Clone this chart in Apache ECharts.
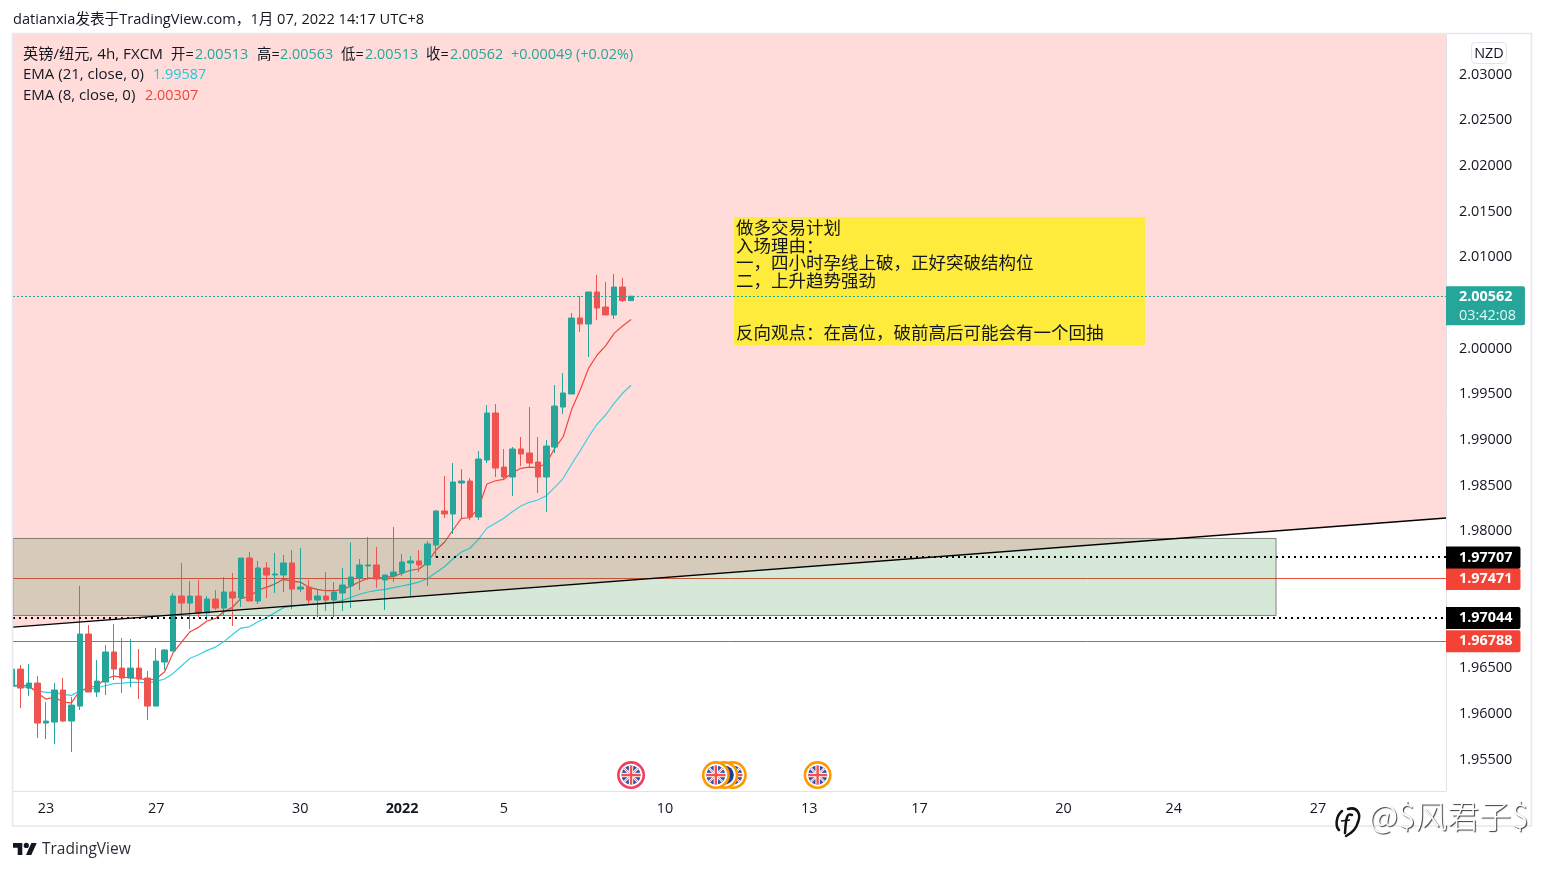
<!DOCTYPE html>
<html>
<head>
<meta charset="utf-8">
<title>英镑/纽元 4h</title>
<style>html,body{margin:0;padding:0;background:#fff}#chart{width:1544px;height:870px}</style>
<script src="https://cdn.jsdelivr.net/npm/echarts@6/dist/echarts.min.js"></script>
</head>
<body>
<div id="chart"></div>
<script>
// GBP/NZD 4h candles, oldest first
const opens = [1.96293,1.96479,1.96271,1.96326,1.95888,1.95899,1.96250,1.95910,1.96074,1.96863,
1.96228,1.96337,1.96666,1.96490,1.96381,1.96490,1.96381,1.96074,1.96556,1.96677,
1.97279,1.97202,1.97279,1.97093,1.97246,1.97147,1.97323,1.97257,1.97695,1.97224,
1.97586,1.97509,1.97509,1.97641,1.97355,1.97377,1.97235,1.97279,1.97235,1.97312,
1.97389,1.97476,1.97608,1.97619,1.97454,1.97498,1.97531,1.97641,1.97663,1.97619,
1.97837,1.98210,1.98177,1.98516,1.98538,1.98144,1.98768,1.99283,1.98691,1.98582,
1.98889,1.98845,1.98746,1.98582,1.98910,1.99348,1.99491,2.00323,2.00257,2.00608,
2.00443,2.00356,2.00662,2.00513];
const closes = [1.96479,1.96271,1.96326,1.95888,1.95910,1.96250,1.95910,1.96085,1.96863,1.96228,
1.96348,1.96666,1.96479,1.96381,1.96490,1.96370,1.96074,1.96567,1.96688,1.97279,
1.97202,1.97279,1.97093,1.97246,1.97147,1.97323,1.97257,1.97695,1.97224,1.97586,
1.97509,1.97520,1.97641,1.97355,1.97377,1.97235,1.97279,1.97235,1.97323,1.97399,
1.97487,1.97619,1.97619,1.97465,1.97509,1.97542,1.97651,1.97663,1.97619,1.97849,
1.98210,1.98177,1.98527,1.98538,1.98144,1.98779,1.99283,1.98680,1.98582,1.98889,
1.98834,1.98735,1.98582,1.98921,1.99359,1.99502,2.00323,2.00257,2.00608,2.00432,
2.00356,2.00662,2.00513,2.00562];
const highs = [1.96479,1.96523,1.96534,1.96403,1.96118,1.96326,1.96381,1.96173,1.97389,1.96961,
1.96578,1.96742,1.96972,1.96819,1.96808,1.96698,1.96458,1.96709,1.96698,1.97312,
1.97641,1.97443,1.97454,1.97279,1.97345,1.97487,1.97531,1.97695,1.97761,1.97663,
1.97651,1.97750,1.97728,1.97783,1.97805,1.97454,1.97345,1.97542,1.97432,1.97586,
1.97865,1.97684,1.97925,1.97816,1.97509,1.98034,1.97739,1.97717,1.97783,1.97881,
1.98221,1.98593,1.98735,1.98669,1.98571,1.98867,1.99370,1.99381,1.98889,1.98911,
1.99020,1.99348,1.99020,1.98987,1.99589,1.99721,2.00378,2.00564,2.00608,2.00794,
2.00717,2.00805,2.00761,2.00563];
const lows = [1.96293,1.96052,1.96184,1.95724,1.95713,1.95658,1.95899,1.95571,1.96031,1.96228,
1.96173,1.96195,1.96359,1.96217,1.96282,1.96151,1.95921,1.96074,1.96469,1.96677,
1.97027,1.96917,1.97049,1.97016,1.97126,1.97071,1.96950,1.97158,1.97224,1.97191,
1.97257,1.97312,1.97323,1.97136,1.97323,1.97191,1.97049,1.97115,1.97049,1.97115,
1.97147,1.97345,1.97454,1.97367,1.97126,1.97432,1.97498,1.97268,1.97542,1.97389,
1.97706,1.98133,1.97958,1.98133,1.98111,1.98111,1.98735,1.98582,1.98549,1.98374,
1.98702,1.98680,1.98407,1.98199,1.98845,1.99272,1.99491,2.00170,1.99896,2.00301,
2.00356,2.00312,2.00498,2.00513];
const ema8 = [1.96299,1.96301,1.96297,1.96217,1.96151,1.96173,1.96118,1.96110,1.96242,1.96275,
1.96297,1.96370,1.96403,1.96392,1.96384,1.96378,1.96359,1.96373,1.96450,1.96658,
1.96775,1.96888,1.96936,1.97005,1.97035,1.97107,1.97155,1.97254,1.97271,1.97345,
1.97374,1.97410,1.97462,1.97443,1.97432,1.97374,1.97352,1.97337,1.97337,1.97352,
1.97389,1.97436,1.97476,1.97473,1.97484,1.97495,1.97528,1.97561,1.97575,1.97646,
1.97783,1.97868,1.98002,1.98130,1.98136,1.98239,1.98505,1.98541,1.98557,1.98629,
1.98677,1.98691,1.98684,1.98732,1.98896,1.99023,1.99323,1.99535,1.99775,1.99918,
2.00017,2.00155,2.00235,2.00307];
const ema21 = [1.96299,1.96286,1.96275,1.96242,1.96224,1.96224,1.96202,1.96191,1.96242,1.96257,
1.96275,1.96297,1.96319,1.96326,1.96334,1.96334,1.96329,1.96345,1.96370,1.96432,
1.96516,1.96597,1.96636,1.96684,1.96720,1.96780,1.96857,1.96928,1.96942,1.96997,
1.97041,1.97096,1.97151,1.97169,1.97177,1.97188,1.97194,1.97202,1.97210,1.97232,
1.97265,1.97298,1.97323,1.97341,1.97352,1.97370,1.97389,1.97410,1.97432,1.97470,
1.97536,1.97599,1.97687,1.97761,1.97802,1.97900,1.98021,1.98075,1.98130,1.98202,
1.98264,1.98305,1.98330,1.98377,1.98469,1.98568,1.98724,1.98870,1.99023,1.99162,
1.99261,1.99389,1.99499,1.99587];

// Axis ticks: bar slots that carry a date label, and the visible price labels
const dateTickSlots = [4,17,34,46,58,77,94,107,124,137,154];
const dateTickLabels = ['23','27','30','2022','5','10','13','17','20','24','27'];
const priceTicks = [2.03,2.025,2.02,2.015,2.01,2,1.995,1.99,1.985,1.98,1.965,1.96,1.955];

// Drawn objects on the chart, in bar slots and prices
const slotMin = 0.118, slotMax = 169.1;
const priceMin = 1.951442, priceMax = 2.034325;
const trendSlots = [slotMin, slotMax];
const trendPrices = [1.96939, 1.98133];
const zoneSlots = [slotMin, 149.06];
const zonePrices = [1.97066, 1.97909];
const noteSlots = [85.14, 133.6];
const notePrices = [2.00027, 2.01429];
const noteLines = ['做多交易计划','入场理由：','一，四小时孕线上破，正好突破结构位','二，上升趋势强劲','','','反向观点：在高位，破前高后可能会有一个回抽'];
const dottedLevels = [1.97707, 1.97044];
const dottedStarts = [50, slotMin];
const thinLevels = [1.97471, 1.96788];
const lastPrice = 2.00562;
const countdown = '03:42:08';
const eventSlots = [73, 85, 84, 83, 95];
const eventRings = ['#f23d5c', '#ff9800', '#ff9800', '#ff9800', '#ff9800'];
const eventFlags = ['uk', 'uk', 'nz', 'uk', 'uk'];
const eventPrice = 1.95319;

const UI_FONT = '"Open Sans","Noto Sans CJK SC",sans-serif';
const INK = '#131722', TEAL = '#26a69a', RED = '#ef5350', TAG_RED = '#f44336';

const candleData = opens.map((o, i) => [i, o, closes[i], lows[i], highs[i]]);
const seriesPoints = arr => arr.map((v, i) => [i, v]);

function priceTag(text, bg) {
  return {
    show: true, position: 'end', distance: 0, formatter: text,
    backgroundColor: bg, color: '#fff', fontFamily: UI_FONT, fontWeight: 'bold', fontSize: 14.4,
    padding: [3, 8, 2, 13], lineHeight: 17, borderRadius: [0, 2, 2, 0], offset: [0, 0.5]
  };
}

function drawEvent(params, api) {
  const i = params.dataIndex;
  const c = api.coord([api.value(0), api.value(1)]);
  const x = c[0], y = c[1], r = 9.5, d = r * 0.707;
  const seg = (x1, y1, x2, y2, color, w) => ({
    type: 'line', shape: {x1: x + x1, y1: y + y1, x2: x + x2, y2: y + y2},
    style: {stroke: color, lineWidth: w}
  });
  const children = [
    {type: 'circle', shape: {cx: x, cy: y, r: 12.7}, style: {fill: '#fff', stroke: eventRings[i], lineWidth: 2.6}},
    {type: 'circle', shape: {cx: x, cy: y, r: r}, style: {fill: eventFlags[i] === 'uk' ? '#2f4fa8' : '#1c3f9c'}}
  ];
  if (eventFlags[i] === 'uk') {
    children.push(
      seg(-d, -d, d, d, '#fff', 2.4), seg(-d, d, d, -d, '#fff', 2.4),
      seg(-d, -d, d, d, '#ef5350', 0.8), seg(-d, d, d, -d, '#ef5350', 0.8),
      seg(-r, 0, r, 0, '#fff', 4.4), seg(0, -r, 0, r, '#fff', 4.4),
      seg(-r, 0, r, 0, '#ef5350', 2.4), seg(0, -r, 0, r, '#ef5350', 2.4)
    );
  } else {
    children.push({type: 'circle', shape: {cx: x + 3, cy: y - 1, r: 1}, style: {fill: '#ef5350'}});
  }
  return {type: 'group', children};
}

// Legend row: pieces are placed one by one so that label and value columns stay fixed
const headerPieces = [
  [23, '英镑/纽元, 4h, FXCM', INK, 15.2], [171, '开=', INK], [195, '2.00513', TEAL],
  [257, '高=', INK], [280, '2.00563', TEAL], [341, '低=', INK], [365, '2.00513', TEAL],
  [426, '收=', INK], [450, '2.00562', TEAL], [511, '+0.00049 (+0.02%)', TEAL]
];
const textAt = (x, y, text, fill, extra) => ({
  type: 'text', x, y, z: 50, silent: true,
  style: Object.assign({text, fill, font: '14.4px ' + UI_FONT, textVerticalAlign: 'middle'}, extra || {})
});
const strokeCurve = (x1, y1, cx1, cy1, cx2, cy2, x2, y2) => ({
  type: 'bezierCurve', z: 60, silent: true,
  shape: {x1, y1, x2, y2, cpx1: cx1, cpy1: cy1, cpx2: cx2, cpy2: cy2},
  style: {fill: 'none', stroke: '#111', lineWidth: 2.5, lineCap: 'round'}
});
const graphicEls = [
  // Bars sitting on the left edge are cut off at the pane border
  {type: 'rect', z: 40, silent: true, shape: {x: 0, y: 34, width: 12.5, height: 757}, style: {fill: '#fff'}},
  {type: 'rect', z: 45, silent: true, shape: {x: 12.5, y: 33.5, width: 1519, height: 792.5},
   style: {fill: 'none', stroke: '#e6e7ef', lineWidth: 1.6}},
  textAt(13, 19.5, 'datianxia发表于TradingView.com，1月 07, 2022 14:17 UTC+8', INK, {font: '14.6px ' + UI_FONT}),
  textAt(23, 75, 'EMA (21, close, 0)', INK, {font: '15px ' + UI_FONT}),
  textAt(153, 75, '1.99587', '#26c6da'),
  textAt(23, 96, 'EMA (8, close, 0)', INK, {font: '15px ' + UI_FONT}),
  textAt(145, 96, '2.00307', '#f44336'),
  {type: 'rect', z: 50, silent: true, shape: {x: 1471.5, y: 42.5, width: 35, height: 21, r: 4},
   style: {fill: '#fff', stroke: '#e0e3eb', lineWidth: 1}},
  textAt(1489, 53.5, 'NZD', INK, {textAlign: 'center'}),
  // TradingView mark
  {type: 'polygon', z: 50, silent: true, shape: {points: [[13,843],[22.3,843],[22.3,855],[17.7,855],[17.7,847.7],[13,847.7]]}, style: {fill: '#131722'}},
  {type: 'circle', z: 50, silent: true, shape: {cx: 26.3, cy: 845.4, r: 2.6}, style: {fill: '#131722'}},
  {type: 'polygon', z: 50, silent: true, shape: {points: [[31.3,843],[36.7,843],[31.3,855],[26,855]]}, style: {fill: '#131722'}},
  textAt(42, 849.5, 'TradingView', '#2a2e39', {font: '15.5px ' + UI_FONT}),
  // Watermark badge and handle
  strokeCurve(1342, 811, 1336, 816, 1335, 826, 1339, 830),
  strokeCurve(1348, 809, 1358, 806, 1361, 815, 1358, 822),
  strokeCurve(1358, 822, 1356, 830, 1350, 834, 1346, 836),
  strokeCurve(1352, 815, 1347, 813, 1346, 817, 1345, 833),
  {type: 'line', z: 60, silent: true, shape: {x1: 1341, y1: 821, x2: 1350, y2: 820}, style: {stroke: '#111', lineWidth: 1.6}},
  textAt(1369, 816, '@$风君子$', '#ffffff', {
    font: '300 32px "Noto Sans CJK SC",sans-serif',
    textShadowColor: 'rgba(0,0,0,0.8)', textShadowBlur: 1, textShadowOffsetX: 1, textShadowOffsetY: 1
  })
];
headerPieces.forEach(p => graphicEls.push(textAt(p[0], 54.5, p[1], p[2], p[3] ? {font: p[3] + 'px ' + UI_FONT} : null)));

const chart = echarts.init(document.getElementById('chart'));
const noLine = {width: 0, opacity: 0};
chart.setOption({
  animation: false,
  backgroundColor: '#fff',
  textStyle: {fontFamily: UI_FONT},
  grid: {left: 13, right: 98, top: 34, bottom: 79, containLabel: false},
  graphic: {elements: graphicEls},
  xAxis: {
    type: 'value', min: slotMin, max: slotMax,
    axisLine: {show: true, lineStyle: {color: '#e0e3eb'}}, axisTick: {show: false}, splitLine: {show: false},
    axisLabel: {
      customValues: dateTickSlots, margin: 11, color: INK, fontSize: 14.4, fontFamily: UI_FONT,
      formatter: v => {
        const t = dateTickLabels[dateTickSlots.indexOf(v)];
        return t === '2022' ? '{y|2022}' : t;
      },
      rich: {y: {fontWeight: 'bold', fontSize: 14.4, color: INK, fontFamily: UI_FONT}}
    }
  },
  yAxis: {
    type: 'value', position: 'right', min: priceMin, max: priceMax, scale: true,
    axisLine: {show: true, onZero: false, lineStyle: {color: '#e0e3eb'}}, axisTick: {show: false}, splitLine: {show: false},
    axisLabel: {customValues: priceTicks, margin: 13, verticalAlign: 'top', lineHeight: 2, color: INK, fontSize: 14.4, fontFamily: UI_FONT, formatter: v => v.toFixed(5)}
  },
  series: [
    {name: 'bias', type: 'line', z: 1, symbol: 'none', silent: true,
     data: trendSlots.map((s, i) => [s, trendPrices[i]]), lineStyle: noLine,
     areaStyle: {origin: 'end', color: '#ffdcda', opacity: 1}},
    {name: 'levels', type: 'line', z: 2, data: [], symbol: 'none', silent: true,
     markLine: {
       z: 2, silent: true, symbol: 'none', animation: false,
       data: thinLevels.map(v => [
         {coord: [slotMin, v], lineStyle: {color: '#e8503f', width: 1, type: 'solid'}, label: priceTag(v.toFixed(5), TAG_RED)},
         {coord: [slotMax, v]}
       ])
     }},
    {name: 'EMA 21', type: 'line', z: 3, symbol: 'none', silent: true, data: seriesPoints(ema21),
     lineStyle: {color: '#38cfe2', width: 1.2}},
    {name: 'EMA 8', type: 'line', z: 3, symbol: 'none', silent: true, data: seriesPoints(ema8),
     lineStyle: {color: '#f4453f', width: 1.2}},
    {name: 'zone', type: 'line', z: 4, data: [], symbol: 'none', silent: true,
     markArea: {
       z: 4, silent: true, animation: false,
       itemStyle: {color: 'rgba(0,117,17,0.16)', borderColor: 'rgba(70,80,70,0.65)', borderWidth: 1},
       data: [[{coord: [zoneSlots[0], zonePrices[1]]}, {coord: [zoneSlots[1], zonePrices[0]]}]]
     }},
    {name: 'note', type: 'line', z: 4, data: [], symbol: 'none', silent: true,
     markArea: {
       z: 4, silent: true, animation: false,
       itemStyle: {color: '#ffeb3b', opacity: 1, borderWidth: 0},
       label: {
         show: true, position: 'insideTopLeft', distance: 2, formatter: noteLines.join('\n'),
         color: INK, fontSize: 17.5, lineHeight: 17.5, fontFamily: '"Noto Sans CJK SC",sans-serif'
       },
       data: [[{coord: [noteSlots[0], notePrices[1]]}, {coord: [noteSlots[1], notePrices[0]]}]]
     }},
    {name: '英镑/纽元', type: 'candlestick', z: 5, silent: true, data: candleData, barWidth: 6,
     itemStyle: {color: TEAL, color0: RED, borderColor: TEAL, borderColor0: RED, borderWidth: 1}},
    {name: 'guides', type: 'line', z: 6, data: [], symbol: 'none', silent: true,
     markLine: {
       z: 6, silent: true, symbol: 'none', animation: false,
       data: dottedLevels.map((v, i) => [
         {coord: [dottedStarts[i], v], lineStyle: {color: '#000', width: 2, type: [2, 4]}, label: priceTag(v.toFixed(5), '#000')},
         {coord: [slotMax, v]}
       ]).concat([[
         {coord: [slotMin, lastPrice], lineStyle: {color: TEAL, width: 1, type: [2, 2]},
          label: Object.assign(priceTag(lastPrice.toFixed(5) + '\n{t|' + countdown + '}', TEAL),
            {lineHeight: 19, padding: [1, 9, 0, 13], offset: [0, 9.5], rich: {t: {color: '#e6f5f3', fontSize: 14.4, fontWeight: 'normal', fontFamily: UI_FONT, lineHeight: 19}}})},
         {coord: [slotMax, lastPrice]}
       ]])
     }},
    {name: 'trend', type: 'line', z: 7, symbol: 'none', silent: true,
     data: trendSlots.map((s, i) => [s, trendPrices[i]]), lineStyle: {color: '#000', width: 1.4}},
    {name: 'events', type: 'custom', z: 8, silent: true, clip: false,
     data: eventSlots.map(s => [s, eventPrice]), encode: {x: 0, y: 1}, renderItem: drawEvent}
  ]
});
</script>
</body>
</html>
